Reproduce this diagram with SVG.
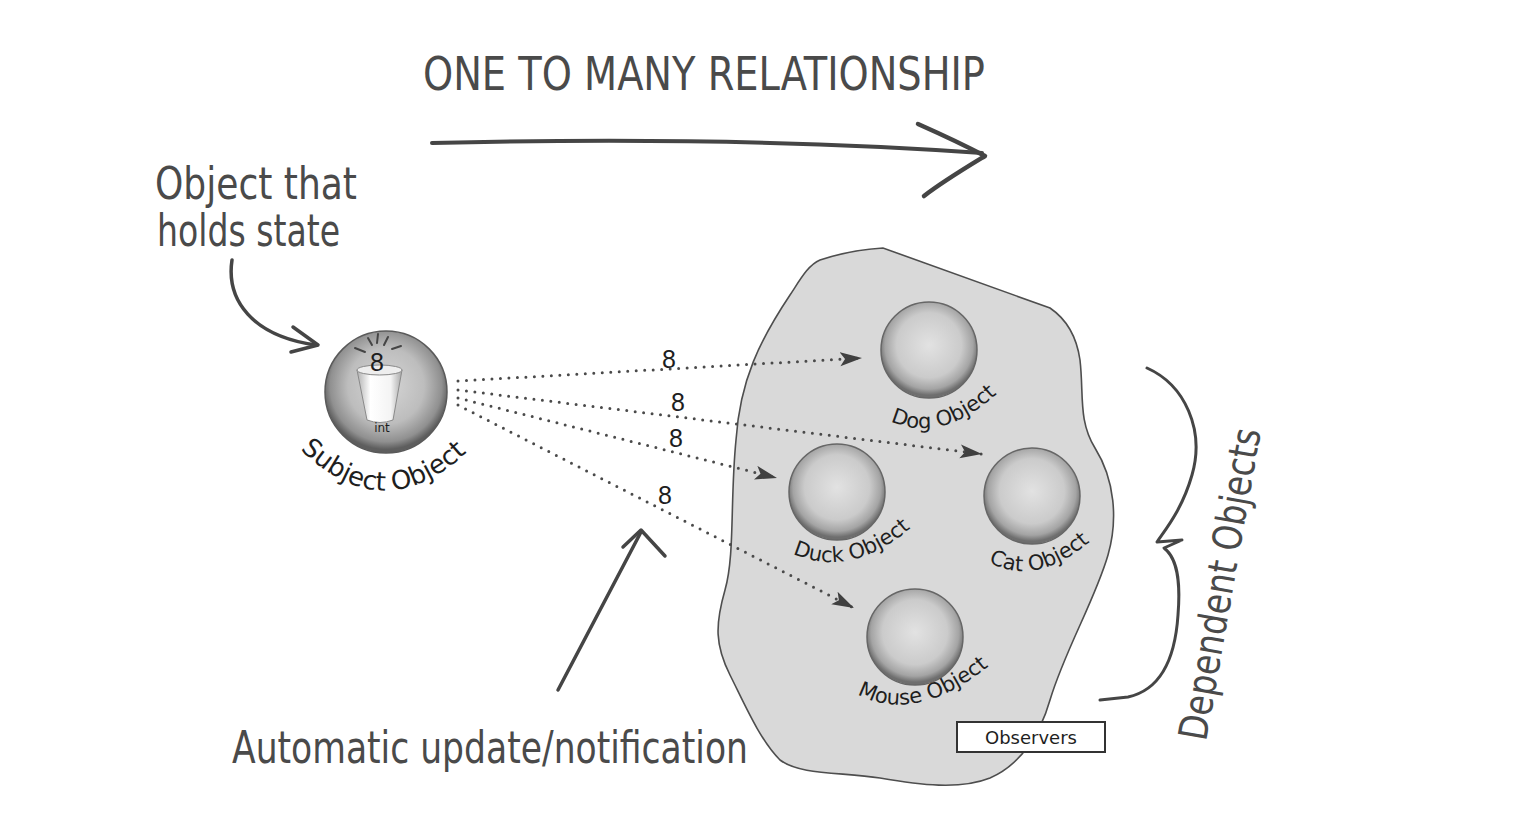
<svg xmlns="http://www.w3.org/2000/svg" width="1532" height="836" viewBox="0 0 1532 836">
<style>
.hand{font-family:"DejaVu Sans Condensed","DejaVu Sans",sans-serif;fill:#4a4a4a}
.lbl{font-family:"DejaVu Sans","Noto Sans",sans-serif;fill:#1e1e1e}
.num{font-family:"Liberation Sans",Arial,sans-serif;font-size:25px;fill:#1e1e1e}
.ink{fill:none;stroke:#454545;stroke-linecap:round;stroke-linejoin:round}
.dot{fill:none;stroke:#4a4a4a;stroke-width:3;stroke-dasharray:0 8.5;stroke-linecap:round}
.obs{fill:url(#gObs);stroke:#666;stroke-width:1.5}
</style>
<defs>
<radialGradient id="gObs" cx="50%" cy="45%" r="52%">
<stop offset="0" stop-color="#e2e2e2"/>
<stop offset="0.65" stop-color="#cbcbcb"/>
<stop offset="0.88" stop-color="#a4a4a4"/>
<stop offset="1" stop-color="#6e6e6e"/>
</radialGradient>
<radialGradient id="gSub" cx="50%" cy="45%" r="52%">
<stop offset="0" stop-color="#d6d6d6"/>
<stop offset="0.6" stop-color="#bdbdbd"/>
<stop offset="0.88" stop-color="#909090"/>
<stop offset="1" stop-color="#5e5e5e"/>
</radialGradient>
<linearGradient id="gCup" x1="0" y1="0" x2="1" y2="0">
<stop offset="0" stop-color="#b0b0b0"/>
<stop offset="0.3" stop-color="#ffffff"/>
<stop offset="0.75" stop-color="#f4f4f4"/>
<stop offset="1" stop-color="#a8a8a8"/>
</linearGradient>
<marker id="ah" markerWidth="24" markerHeight="16" refX="22" refY="7" orient="auto" markerUnits="userSpaceOnUse">
<path d="M0,0 L22,7 L0,14 L5,7 Z" fill="#404040"/>
</marker>
<path id="pSub" d="M293,442 Q387,542 483,436"/>
<path id="pDog" d="M888,420 Q940,446 999,392"/>
<path id="pDuck" d="M791,553 Q850,580 912,527"/>
<path id="pCat" d="M985,560 Q1035,590 1093,539"/>
<path id="pMouse" d="M857,694 Q915,725 989,666"/>
</defs>
<rect width="1532" height="836" fill="#ffffff"/>

<g id="title">
<text class="hand" x="423" y="90" font-size="46" textLength="562" lengthAdjust="spacingAndGlyphs">ONE TO MANY RELATIONSHIP</text>
<path class="ink" stroke-width="4" d="M432,143 C600,139 800,140 982,153"/>
<path class="ink" stroke-width="4.5" d="M918,124 C945,136 966,146 985,156 C962,170 942,182 924,196"/>
</g>

<g id="blob">
<path d="M820,260 Q850,250 883,248 L1050,308 Q1075,325 1080,360 C1084,395 1078,420 1095,448 C1115,480 1118,520 1108,555 C1095,600 1065,650 1050,700 C1040,735 1020,765 990,778 C960,790 920,785 880,778 C840,772 800,775 780,760 C760,740 745,705 730,675 C715,645 715,625 725,590 C735,555 730,500 736,440 C740,380 760,340 790,295 C800,280 808,265 820,260 Z" fill="#d9d9d9" stroke="#4e4e4e" stroke-width="1.6"/>
</g>

<g id="state-note">
<text class="hand" x="155" y="199" font-size="44" textLength="202" lengthAdjust="spacingAndGlyphs">Object that</text>
<text class="hand" x="157" y="246" font-size="44" textLength="183" lengthAdjust="spacingAndGlyphs">holds state</text>
<path class="ink" stroke-width="3.5" d="M232,260 C226,300 252,336 316,345"/>
<path class="ink" stroke-width="3.5" d="M293,327 L318,345 L291,352"/>
</g>

<g id="subject">
<circle cx="386" cy="392" r="61" fill="url(#gSub)" stroke="#5a5a5a" stroke-width="1.5"/>
<path d="M357,370 L367,420 Q380,425 393,420 L402,370 Z" fill="url(#gCup)" stroke="#8a8a8a" stroke-width="1"/>
<ellipse cx="379.5" cy="370" rx="22.5" ry="5" fill="#eeeeee" stroke="#888" stroke-width="1"/>
<g class="ink" stroke-width="2" stroke="#333">
<path d="M355,348 L365,352"/><path d="M368,338 L372,345"/><path d="M378,334 L377,343"/><path d="M388,337 L384,345"/><path d="M392,349 L401,346"/>
</g>
<text class="num" x="377" y="371" text-anchor="middle" font-size="26">8</text>
<text class="lbl" x="382" y="432" text-anchor="middle" font-size="12">int</text>
<text class="lbl" font-size="26"><textPath href="#pSub" startOffset="48.3%" text-anchor="end">Subject</textPath></text>
<text class="lbl" font-size="26"><textPath href="#pSub" startOffset="51.7%" text-anchor="start">Object</textPath></text>
</g>

<g id="dog">
<circle class="obs" cx="929" cy="350" r="48"/>
<text class="lbl" font-size="21"><textPath href="#pDog" startOffset="50%" text-anchor="middle">Dog Object</textPath></text>
</g>
<g id="duck">
<circle class="obs" cx="837" cy="492" r="48"/>
<text class="lbl" font-size="21"><textPath href="#pDuck" startOffset="50%" text-anchor="middle">Duck Object</textPath></text>
</g>
<g id="cat">
<circle class="obs" cx="1032" cy="496" r="48"/>
<text class="lbl" font-size="21"><textPath href="#pCat" startOffset="50%" text-anchor="middle">Cat Object</textPath></text>
</g>
<g id="mouse">
<circle class="obs" cx="915" cy="637" r="48"/>
<text class="lbl" font-size="21"><textPath href="#pMouse" startOffset="50%" text-anchor="middle">Mouse Object</textPath></text>
</g>

<g id="connectors">
<path class="dot" d="M458,381 L862,358" marker-end="url(#ah)"/>
<path class="dot" d="M458,390 L982,454" marker-end="url(#ah)"/>
<path class="dot" d="M458,398 L777,478" marker-end="url(#ah)"/>
<path class="dot" d="M458,405 L854,608" marker-end="url(#ah)"/>
<text class="num" x="669" y="368" text-anchor="middle">8</text>
<text class="num" x="678" y="411" text-anchor="middle">8</text>
<text class="num" x="676" y="447" text-anchor="middle">8</text>
<text class="num" x="665" y="504" text-anchor="middle">8</text>
</g>

<g id="notification">
<text class="hand" x="232" y="763" font-size="44" textLength="516" lengthAdjust="spacingAndGlyphs">Automatic update/notification</text>
<path class="ink" stroke-width="3.5" d="M558,690 L641,532"/>
<path class="ink" stroke-width="3.5" d="M623,547 L641,530 L665,556"/>
</g>

<g id="observers-label">
<rect x="957" y="722" width="148" height="30" fill="#ffffff" stroke="#333" stroke-width="2"/>
<text class="lbl" x="1031" y="744" text-anchor="middle" font-size="18" fill="#222">Observers</text>
</g>

<g id="dependent">
<path class="ink" stroke-width="3" d="M1147,368 C1185,385 1205,430 1192,475 C1182,510 1165,530 1157,542 L1182,540 L1164,548 C1180,560 1180,590 1178,615 C1175,660 1160,690 1128,697 L1100,700"/>
<text class="hand" font-size="40" transform="translate(1206,742) rotate(-80)" textLength="316" lengthAdjust="spacingAndGlyphs">Dependent Objects</text>
</g>
</svg>
